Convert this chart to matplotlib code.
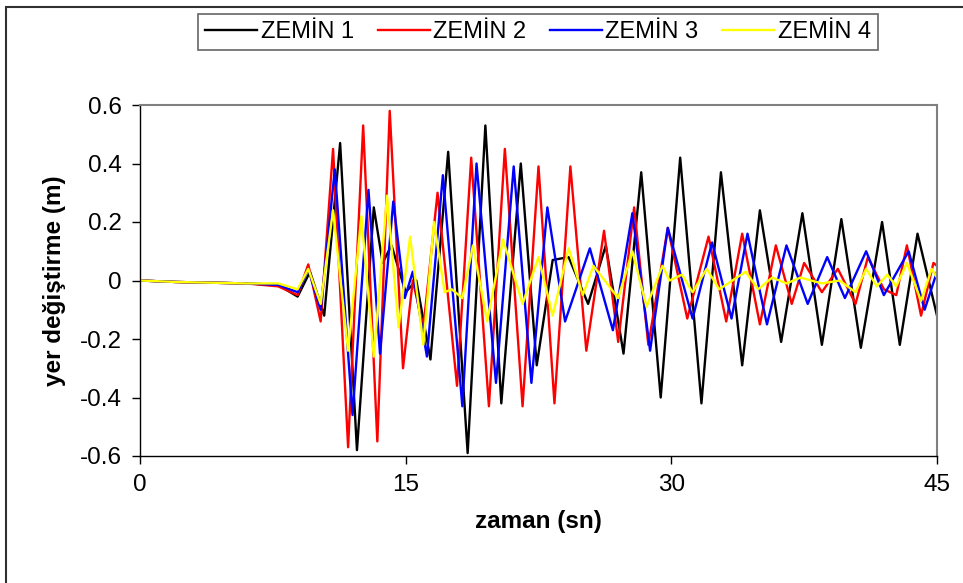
import matplotlib
matplotlib.use("Agg")
import matplotlib.pyplot as plt
from matplotlib.patches import Rectangle
from matplotlib.ticker import FuncFormatter

plt.rcParams['font.family'] = ['Liberation Sans', 'DejaVu Sans']

# peak / trough readings (time in s, displacement in m)
t1 = [0, 2, 6, 7.8, 8.9, 9.6, 10.4, 11.3, 12.25, 13.2, 13.7, 14.2, 15.0, 15.6, 16.4,
      17.4, 18.5, 19.5, 20.4, 21.5, 22.4, 23.3, 24.2, 25.3, 26.3, 27.3, 28.3, 29.4,
      30.5, 31.7, 32.8, 34.0, 35.0, 36.2, 37.4, 38.5, 39.6, 40.7, 41.9, 42.9, 43.9, 45.0]
z1 = [0, -0.005, -0.01, -0.015, -0.055, 0.03, -0.12, 0.47, -0.58, 0.25, 0.06, 0.12, -0.04, 0.0, -0.27,
      0.44, -0.59, 0.53, -0.42, 0.40, -0.29, 0.07, 0.08, -0.08, 0.12, -0.25, 0.37, -0.40,
      0.42, -0.42, 0.37, -0.29, 0.24, -0.21, 0.23, -0.22, 0.21, -0.23, 0.20, -0.22, 0.16, -0.12]

t2 = [0, 2, 6, 7.8, 8.9, 9.5, 10.2, 10.9, 11.75, 12.6, 13.4, 14.1, 14.85, 15.4, 16.0,
      16.8, 17.9, 18.7, 19.7, 20.6, 21.6, 22.5, 23.4, 24.3, 25.2, 26.2, 27.0, 27.9,
      28.7, 29.8, 30.9, 32.1, 33.1, 34.0, 35.0, 35.9, 36.8, 37.5, 38.5, 39.4, 40.4,
      41.1, 42.0, 42.7, 43.3, 44.1, 44.8, 45.0]
z2 = [0, -0.005, -0.01, -0.02, -0.05, 0.055, -0.14, 0.45, -0.57, 0.53, -0.55, 0.58, -0.30, 0.0, -0.16,
      0.30, -0.36, 0.42, -0.43, 0.45, -0.43, 0.39, -0.42, 0.39, -0.24, 0.17, -0.21, 0.25,
      -0.22, 0.18, -0.13, 0.15, -0.14, 0.16, -0.15, 0.12, -0.08, 0.06, -0.04, 0.04, -0.08,
      0.08, -0.03, -0.05, 0.12, -0.12, 0.06, 0.05]

t3 = [0, 2, 6, 7.8, 8.9, 9.5, 10.2, 11.0, 12.0, 12.9, 13.55, 14.3, 14.95, 15.4, 16.2,
      17.1, 18.2, 19.0, 20.1, 21.1, 22.1, 23.0, 24.0, 25.4, 26.7, 27.8, 28.8, 29.8,
      31.2, 32.3, 33.4, 34.3, 35.4, 36.5, 37.7, 38.8, 39.8, 41.0, 42.0, 43.4, 44.3, 45.0]
z3 = [0, -0.005, -0.01, -0.015, -0.04, 0.04, -0.10, 0.38, -0.46, 0.31, -0.25, 0.27, -0.06, 0.03, -0.26,
      0.36, -0.43, 0.40, -0.35, 0.39, -0.35, 0.25, -0.14, 0.11, -0.17, 0.23, -0.24, 0.18,
      -0.13, 0.13, -0.13, 0.16, -0.15, 0.12, -0.08, 0.08, -0.06, 0.10, -0.05, 0.10, -0.10, 0.03]

t4 = [0, 2, 6, 7.8, 8.9, 9.5, 10.2, 10.9, 11.75, 12.5, 13.2, 13.95, 14.6, 15.25, 16.0,
      16.6, 17.2, 17.6, 18.2, 18.8, 19.6, 20.5, 21.6, 22.5, 23.3, 24.2, 25.0, 25.6,
      27.0, 27.8, 28.6, 29.5, 29.9, 30.6, 31.2, 32.0, 32.7, 34.2, 34.9, 35.7, 36.5,
      37.3, 38.5, 39.5, 40.4, 41.0, 41.6, 42.2, 42.7, 43.3, 44.1, 44.7, 45.0]
z4 = [0, -0.005, -0.01, -0.01, -0.03, 0.04, -0.08, 0.24, -0.24, 0.22, -0.26, 0.29, -0.16, 0.15, -0.22,
      0.20, -0.04, -0.03, -0.06, 0.12, -0.14, 0.14, -0.08, 0.08, -0.12, 0.11, -0.05, 0.05,
      -0.06, 0.10, -0.09, 0.05, 0.0, 0.02, -0.04, 0.04, -0.03, 0.03, -0.03, 0.01, -0.01,
      0.01, -0.01, 0.0, -0.04, 0.04, -0.02, 0.02, -0.02, 0.06, -0.07, 0.04, 0.01]

series = [
    ("ZEMİN 1", t1, z1, "#000000"),
    ("ZEMİN 2", t2, z2, "#FF0000"),
    ("ZEMİN 3", t3, z3, "#0000FF"),
    ("ZEMİN 4", t4, z4, "#FFFF00"),
]
xticks = [0, 15, 30, 45]
yticks = [-0.6, -0.4, -0.2, 0, 0.2, 0.4, 0.6]

fig = plt.figure(figsize=(9.63, 5.83), dpi=100)
ax = fig.add_axes([140 / 963, 1 - 456 / 583, 797 / 963, 351 / 583])

for name, t, z, c in series:
    ax.plot(t, z, color=c, linewidth=1.7, label=name)

ax.set_xlim(0, 45)
ax.set_ylim(-0.6, 0.6)
ax.set_xticks(xticks)
ax.set_yticks(yticks)
ax.yaxis.set_major_formatter(FuncFormatter(lambda v, p: "0" if abs(v) < 1e-9 else f"{v:.1f}"))
ax.tick_params(axis='both', direction='out', length=6, width=1, labelsize=17.5, pad=7)

for s in ['top', 'right']:
    ax.spines[s].set_color('#808080')
    ax.spines[s].set_linewidth(1.5)
for s in ['left', 'bottom']:
    ax.spines[s].set_color('black')
    ax.spines[s].set_linewidth(1)

ax.set_xlabel("zaman (sn)", fontsize=17.5, fontweight='bold', labelpad=10)
ax.set_ylabel("yer değiştirme (m)", fontsize=17.5, fontweight='bold', labelpad=10)

leg = fig.legend(loc='upper center', bbox_to_anchor=(538 / 963, 1 - 14 / 583), ncol=4,
                 fontsize=17, frameon=True, fancybox=False, handlelength=2.2,
                 handletextpad=0.15, columnspacing=1.0, borderpad=0.3, borderaxespad=0)
leg.get_frame().set_edgecolor('#404040')
leg.get_frame().set_linewidth(1.2)

# outer chart border (right/bottom run off the image)
fig.patches.append(Rectangle((6 / 963, -0.1), 1.2, 1 - 7 / 583 + 0.1, transform=fig.transFigure,
                             fill=False, edgecolor='#303030', linewidth=1.5))

fig.savefig("out.png", dpi=100)
